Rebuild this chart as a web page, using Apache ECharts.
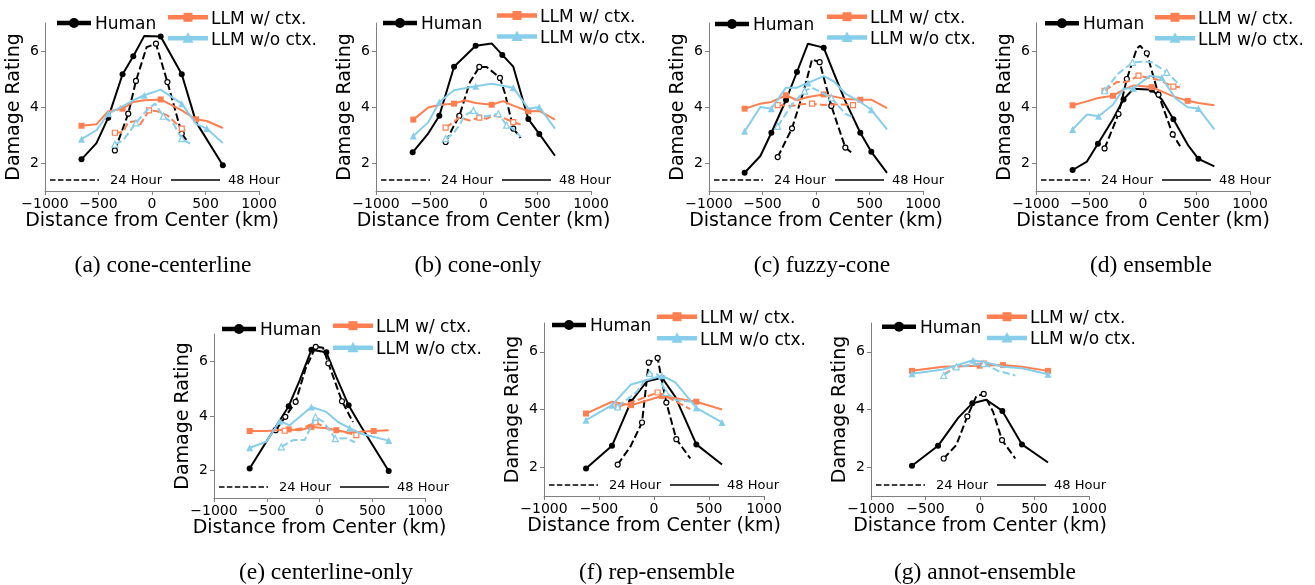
<!DOCTYPE html>
<html><head><meta charset="utf-8">
<script src="https://cdn.jsdelivr.net/npm/echarts@6/dist/echarts.min.js"></script>
<style>html,body{margin:0;padding:0;background:#fff}#c{width:1315px;height:585px}</style>
</head><body><div id="c"></div>
<script>
// ---- data: [distance km, damage rating, marker shown(1/0)] ----
const A_H48=[[-659,2.13,1],[-519,2.71,0],[-409,3.62,1],[-275,5.17,1],[-175,5.81,1],[-72,6.54,0],[81,6.52,1],[278,5.17,1],[412,3.46,0],[662,1.92,1]];
const A_H24=[[-347,2.45,1],[-222,3.76,1],[-150,4.93,1],[-50,6.14,0],[37,6.26,1],[144,4.89,1],[278,3.05,1],[325,2.8,0]];
const A_C48=[[-659,3.33,1],[-519,3.38,0],[-409,3.85,0],[-275,3.94,1],[-175,4.18,0],[-72,4.24,0],[81,4.27,1],[278,3.88,0],[412,3.56,1],[512,3.5,0],[662,3.25,0]];
const A_C24=[[-347,3.08,1],[-270,3.1,0],[-222,3.46,0],[-150,3.5,0],[-110,3.38,0],[-28,3.88,1],[37,3.86,0],[144,3.7,0],[278,3.23,1],[325,3.1,0]];
const A_N48=[[-659,2.85,1],[-519,3.17,0],[-409,3.76,1],[-275,4.02,0],[-175,4.24,0],[-72,4.42,1],[81,4.62,0],[278,4.12,1],[412,3.4,0],[512,3.23,1],[662,2.71,0]];
const A_N24=[[-347,2.67,1],[-270,2.81,0],[-150,3.43,1],[-50,3.88,0],[28,4.12,0],[106,3.67,1],[200,3.4,0],[278,2.87,1],[356,2.69,0]];

const B_H48=[[-659,2.38,1],[-513,3.06,0],[-411,3.69,1],[-274,5.44,1],[-73,6.19,1],[76,6.27,0],[175,5.86,1],[277,5.44,0],[417,3.57,1],[519,3.04,1],[665,2.26,0]];
const B_H24=[[-352,2.75,1],[-281,3.29,0],[-225,3.68,1],[-126,4.89,0],[-39,5.43,1],[29,5.43,0],[153,5.04,1],[200,4.48,0],[277,3.23,1],[345,2.9,0]];
const B_C48=[[-653,3.55,1],[-513,3.98,0],[-405,4.08,0],[-274,4.12,1],[-172,4.24,0],[-73,4.14,0],[76,4.08,1],[184,4.21,0],[277,4.05,0],[417,3.85,1],[519,3.86,0],[665,3.55,0]];
const B_C24=[[-352,3.26,1],[-281,3.46,0],[-225,3.62,0],[-130,3.52,0],[-39,3.62,1],[29,3.58,0],[91,3.7,0],[168,3.64,0],[277,3.46,1],[345,3.38,0]];
const B_N48=[[-653,2.96,1],[-513,3.46,0],[-411,4.18,1],[-274,4.6,0],[-73,4.74,1],[76,4.83,0],[277,4.69,1],[417,3.94,0],[519,4.0,1],[665,3.23,0]];
const B_N24=[[-352,2.87,1],[-281,3.05,0],[-225,3.35,0],[-172,3.7,0],[-94,3.88,1],[-39,3.7,0],[29,3.67,0],[138,3.76,1],[215,3.35,1],[277,3.23,0],[345,2.93,0]];

const C_H48=[[-667,1.65,1],[-520,2.25,0],[-417,3.08,1],[-280,4.25,1],[-178,5.25,1],[-75,6.26,0],[72,6.12,1],[165,5.23,0],[274,4.21,0],[414,3.08,1],[517,2.4,1],[664,1.65,0]];
const C_H24=[[-358,2.21,1],[-224,3.24,1],[-115,4.57,0],[-37,5.7,0],[34,5.6,1],[143,4.04,1],[274,2.55,1],[346,2.33,0]];
const C_C48=[[-667,3.94,1],[-520,4.12,0],[-417,4.18,0],[-280,4.42,1],[-178,4.24,0],[-75,4.36,0],[72,4.45,1],[274,4.29,0],[414,4.26,1],[517,4.26,0],[664,3.96,0]];
const C_C24=[[-358,4.07,1],[-224,4.04,0],[-146,4.1,0],[-37,4.12,1],[72,4.07,0],[165,4.1,0],[346,4.07,1]];
const C_N48=[[-667,3.13,1],[-520,4.0,0],[-417,3.94,1],[-280,4.69,0],[-178,4.69,0],[-75,4.86,1],[72,5.1,0],[165,4.92,0],[274,4.48,0],[414,4.18,0],[517,3.9,1],[664,3.2,0]];
const C_N24=[[-358,3.31,1],[-224,4.1,0],[-106,4.57,1],[-37,4.69,0],[72,4.48,0],[143,4.33,1],[274,3.76,0],[346,3.64,0]];

const D_H48=[[-658,1.75,1],[-524,2.05,0],[-421,2.69,1],[-281,3.56,0],[-182,4.27,1],[-89,4.65,0],[82,4.62,1],[176,4.27,0],[284,3.56,1],[424,2.62,0],[518,2.15,1],[667,1.88,0]];
const D_H24=[[-359,2.52,1],[-229,3.75,1],[-151,5.0,1],[-58,6.09,0],[-27,6.19,0],[36,5.92,1],[145,4.44,1],[278,3.02,1],[347,2.6,0]];
const D_C48=[[-658,4.06,1],[-524,4.2,0],[-421,4.32,0],[-281,4.4,1],[-182,4.62,0],[-89,4.77,0],[82,4.71,1],[284,4.38,0],[418,4.22,1],[518,4.14,0],[667,4.06,0]];
const D_C24=[[-359,4.58,1],[-244,4.89,0],[-151,4.89,0],[-42,5.12,1],[67,5.03,0],[145,4.97,0],[284,4.73,1],[347,4.7,0]];
const D_N48=[[-658,3.2,1],[-524,3.73,0],[-415,3.67,1],[-281,4.08,0],[-182,4.65,0],[-89,4.67,1],[67,5.12,0],[176,5.05,1],[300,4.32,0],[418,3.99,0],[518,3.95,1],[667,3.2,0]];
const D_N24=[[-359,4.58,1],[-229,5.2,0],[-98,5.59,1],[-11,5.62,0],[82,5.6,0],[222,5.24,1],[347,4.77,0]];

const E_H48=[[-662,2.08,1],[-504,3.06,0],[-292,4.36,1],[-188,5.3,0],[-77,6.42,1],[65,6.33,1],[160,5.42,0],[276,4.39,1],[381,3.7,0],[656,1.99,1]];
const E_H24=[[-415,3.48,1],[-324,3.97,1],[-226,4.52,1],[-131,5.74,0],[-36,6.53,1],[33,6.5,0],[84,5.93,1],[213,4.54,1],[317,3.78,0]];
const E_C48=[[-662,3.45,1],[-504,3.45,0],[-292,3.51,1],[-188,3.48,0],[-77,3.6,1],[65,3.55,0],[160,3.48,1],[276,3.4,0],[381,3.42,0],[514,3.45,1],[656,3.48,0]];
const E_C24=[[-330,3.46,1],[-219,3.52,0],[-156,3.56,0],[-39,3.77,1],[65,3.56,0],[216,3.43,0],[349,3.3,1]];
const E_N48=[[-662,2.84,1],[-504,3.06,0],[-378,3.81,1],[-283,3.66,0],[-77,4.33,1],[65,4.15,0],[175,3.78,0],[286,3.56,1],[396,3.35,0],[656,3.1,1]];
const E_N24=[[-362,2.87,1],[-251,3.12,0],[-140,3.12,0],[-39,3.96,1],[40,3.78,0],[150,3.17,1],[254,3.19,0],[336,3.04,0]];

const F_H48=[[-618,1.95,1],[-382,2.74,1],[-209,4.27,1],[-64,4.98,0],[73,5.1,1],[194,4.44,0],[385,2.79,1],[618,2.09,0]];
const F_H24=[[-330,2.09,1],[-215,2.71,0],[-109,3.55,1],[-48,5.63,1],[33,5.79,1],[67,5.08,0],[112,4.24,1],[203,2.97,1],[330,2.3,0]];
const F_C48=[[-618,3.86,1],[-382,4.27,0],[-209,4.15,1],[73,4.47,1],[385,4.27,1],[618,4.0,0]];
const F_C24=[[-330,4.09,1],[-155,4.32,0],[33,4.59,1],[203,4.27,0],[330,4.01,0]];
const F_N48=[[-618,3.63,1],[-382,4.15,1],[-209,4.87,0],[73,5.17,1],[194,4.94,0],[385,4.06,1],[618,3.55,1]];
const F_N24=[[-330,4.09,1],[-155,4.62,0],[-39,5.25,1],[33,5.21,0],[109,4.59,1],[203,4.32,0],[330,4.27,0]];

const G_H48=[[-624,2.05,1],[-385,2.74,1],[-202,3.7,0],[-70,4.22,1],[58,4.34,0],[205,3.95,1],[385,2.79,1],[624,2.16,0]];
const G_H24=[[-333,2.3,1],[-217,2.77,0],[-116,3.76,1],[-34,4.46,0],[34,4.54,1],[119,3.93,0],[202,2.94,1],[324,2.3,0]];
const G_C48=[[-624,5.34,1],[-339,5.48,0],[-3,5.52,1],[211,5.54,1],[385,5.48,0],[624,5.34,1]];
const G_C24=[[-333,5.22,0],[-217,5.48,0],[34,5.59,1],[324,5.48,0]];
const G_N48=[[-624,5.24,1],[-339,5.39,0],[-64,5.71,1],[58,5.63,0],[211,5.48,0],[385,5.43,0],[624,5.22,1]];
const G_N24=[[-333,5.18,1],[-217,5.48,1],[34,5.59,1],[165,5.34,0],[324,5.18,0]];

const panelCaptions=['(a) cone-centerline','(b) cone-only','(c) fuzzy-cone','(d) ensemble','(e) centerline-only','(f) rep-ensemble','(g) annot-ensemble'];
const xTicks=[-1000,-500,0,500,1000];
const yTicks=[2,4,6];
const groupLabels=['Human','LLM w/ ctx.','LLM w/o ctx.'];
const horizonLabels=['24 Hour','48 Hour'];
const xAxisName='Distance from Center (km)';
const yAxisName='Damage Rating';

const panelData=[
 [A_H48,A_H24,A_C48,A_C24,A_N48,A_N24],
 [B_H48,B_H24,B_C48,B_C24,B_N48,B_N24],
 [C_H48,C_H24,C_C48,C_C24,C_N48,C_N24],
 [D_H48,D_H24,D_C48,D_C24,D_N48,D_N24],
 [E_H48,E_H24,E_C48,E_C24,E_N48,E_N24],
 [F_H48,F_H24,F_C48,F_C24,F_N48,F_N24],
 [G_H48,G_H24,G_C48,G_C24,G_N48,G_N24]
];

// ---- layout (pixels) ----
const layout=[
 {l:45,t:23,w:214,h:168,hx:57,hy:23,lx:168,ly1:17.3,ly2:38.3,cx:163,cy:266},
 {l:376,t:23,w:215,h:168,hx:383,hy:23,lx:497,ly1:15.5,ly2:36.5,cx:478,cy:266},
 {l:709,t:23,w:214,h:168,hx:715,hy:24,lx:827,ly1:16.7,ly2:37.5,cx:822,cy:266},
 {l:1036,t:23,w:214,h:168,hx:1045,hy:23.3,lx:1155,ly1:17.3,ly2:38.3,cx:1151,cy:266},
 {l:214,t:334,w:211,h:164,hx:222,hy:329,lx:333,ly1:325.7,ly2:347.7,cx:326,cy:573},
 {l:544,t:323,w:220,h:173,hx:552,hy:325,lx:657,ly1:316.7,ly2:338.3,cx:657,cy:573},
 {l:871,t:323,w:218,h:173,hx:882,hy:326.7,lx:987,ly1:316.7,ly2:338,cx:985,cy:573}
];
const COLORS=['#000000','#FF7F50','#87CEEB'];
const SYMS=['circle','rect','triangle'];
const FONT='DejaVu Sans';
const DASH=[7.4,3.2];

const grids=[],xAxes=[],yAxes=[],series=[],graphics=[];
const fmt=v=>v<0?'\u2212'+Math.abs(v):String(v);
layout.forEach((L,i)=>{
  grids.push({left:L.l,top:L.t,width:L.w,height:L.h,containLabel:false});
  xAxes.push({type:'value',gridIndex:i,min:-1000,max:1000,interval:500,
    axisLine:{show:true,onZero:false,lineStyle:{color:'#808080',width:1}},
    axisTick:{show:true,length:4,inside:false,customValues:xTicks,lineStyle:{color:'#808080'}},
    axisLabel:{customValues:xTicks,fontSize:14,fontFamily:FONT,color:'#000',margin:6,formatter:fmt,showMinLabel:true,showMaxLabel:true},
    splitLine:{show:false},
    name:xAxisName,nameLocation:'middle',nameGap:21,nameTextStyle:{fontSize:19,fontFamily:FONT,color:'#000'}});
  yAxes.push({type:'value',gridIndex:i,min:1,max:7,
    axisLine:{show:true,onZero:false,lineStyle:{color:'#808080',width:1}},
    axisTick:{show:true,length:4,customValues:yTicks,lineStyle:{color:'#808080'}},
    axisLabel:{customValues:yTicks,fontSize:14,fontFamily:FONT,color:'#000',margin:6},
    splitLine:{show:false},
    name:yAxisName,nameLocation:'middle',nameGap:21,nameTextStyle:{fontSize:19,fontFamily:FONT,color:'#000'}});
  panelData[i].forEach((arr,k)=>{
    const g=Math.floor(k/2), dashed=(k%2===1), col=COLORS[g];
    const sz=g===2?(dashed?6:7):(dashed?5:6);
    series.push({type:'line',xAxisIndex:i,yAxisIndex:i,animation:false,silent:true,
      z:2+g,
      data:arr.map(p=>({value:[p[0],p[1]],symbol:p[2]?SYMS[g]:'none'})),
      symbolSize:sz,showSymbol:true,showAllSymbol:true,
      lineStyle:{color:col,width:2,type:dashed?DASH:'solid'},
      itemStyle:{color:dashed?'#ffffff':col,borderColor:col,borderWidth:dashed?1.2:0}});
  });
  // legend: Human
  const hlen=34;
  graphics.push({type:'line',shape:{x1:L.hx,y1:L.hy,x2:L.hx+hlen,y2:L.hy},style:{stroke:'#000',lineWidth:4.5},silent:true});
  graphics.push({type:'circle',shape:{cx:L.hx+hlen/2,cy:L.hy,r:5},style:{fill:'#000'},silent:true});
  graphics.push({type:'text',x:L.hx+hlen+4,y:L.hy+1.5,style:{text:groupLabels[0],fontSize:17,fontFamily:FONT,fill:'#000',textAlign:'left',align:'left',textVerticalAlign:'middle',verticalAlign:'middle'},silent:true});
  // legend: LLM
  const llen=40;
  [[L.ly1,1],[L.ly2,2]].forEach(([yy,g])=>{
    graphics.push({type:'line',shape:{x1:L.lx,y1:yy,x2:L.lx+llen,y2:yy},style:{stroke:COLORS[g],lineWidth:4.5},silent:true});
    const mx=L.lx+llen/2;
    if(g===1) graphics.push({type:'rect',shape:{x:mx-4.5,y:yy-4.5,width:9,height:9},style:{fill:COLORS[g]},silent:true});
    else graphics.push({type:'polygon',shape:{points:[[mx,yy-6],[mx-5.5,yy+4.5],[mx+5.5,yy+4.5]]},style:{fill:COLORS[g]},silent:true});
    graphics.push({type:'text',x:L.lx+llen+3,y:yy+2,style:{text:groupLabels[g],fontSize:17,fontFamily:FONT,fill:'#000',textAlign:'left',align:'left',textVerticalAlign:'middle',verticalAlign:'middle'},silent:true});
  });
  // bottom horizon legend
  const by=L.t+L.h-11;
  graphics.push({type:'line',shape:{x1:L.l+5,y1:by,x2:L.l+54,y2:by},style:{stroke:'#000',lineWidth:1.5,lineDash:[5.5,2.4]},silent:true});
  graphics.push({type:'text',x:L.l+65,y:by+0.5,style:{text:horizonLabels[0],fontSize:13,fontFamily:FONT,fill:'#000',textAlign:'left',align:'left',textVerticalAlign:'middle',verticalAlign:'middle'},silent:true});
  graphics.push({type:'line',shape:{x1:L.l+126,y1:by,x2:L.l+175,y2:by},style:{stroke:'#000',lineWidth:1.5},silent:true});
  graphics.push({type:'text',x:L.l+183,y:by+0.5,style:{text:horizonLabels[1],fontSize:13,fontFamily:FONT,fill:'#000',textAlign:'left',align:'left',textVerticalAlign:'middle',verticalAlign:'middle'},silent:true});
  // caption
  graphics.push({type:'text',x:L.cx,y:L.cy,style:{text:panelCaptions[i],fontSize:23.5,fontFamily:'Liberation Serif',fill:'#000',textAlign:'center',align:'center',textVerticalAlign:'middle',verticalAlign:'middle'},silent:true});
});

const chart=echarts.init(document.getElementById('c'),null,{renderer:'canvas'});
chart.setOption({animation:false,backgroundColor:'#fff',grid:grids,xAxis:xAxes,yAxis:yAxes,series:series,graphic:{elements:graphics}});
</script></body></html>
